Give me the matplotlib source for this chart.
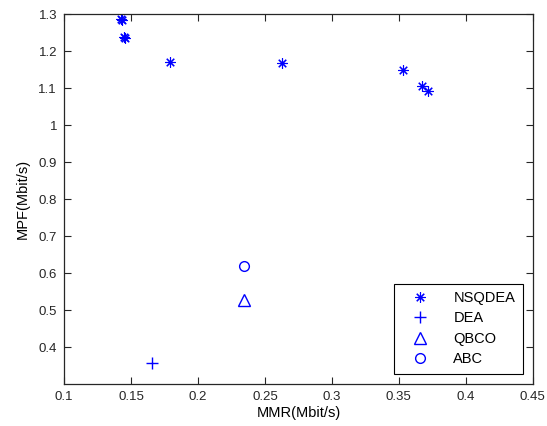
import matplotlib
matplotlib.use("Agg")
import matplotlib.pyplot as plt

# Pareto front of NSQDEA and single results of the other algorithms
nsqdea_mmr = [0.1425, 0.1435, 0.145, 0.1455, 0.179, 0.263, 0.353, 0.367, 0.372]
nsqdea_mpf = [1.288, 1.284, 1.239, 1.235, 1.171, 1.168, 1.150, 1.106, 1.092]
dea_mmr = [0.1654]
dea_mpf = [0.356]
qbco_mmr = [0.2346]
qbco_mpf = [0.528]
abc_mmr = [0.2346]
abc_mpf = [0.619]

BLUE = "#0000ff"
plt.rcParams["font.family"] = ["Liberation Sans", "DejaVu Sans"]

fig = plt.figure(figsize=(5.47, 4.26), dpi=100)
ax = fig.add_axes([0.117, 0.0986, 0.857, 0.868])

ax.plot(nsqdea_mmr, nsqdea_mpf, linestyle="none", marker=(8, 2, 0),
        markersize=7.5, markeredgewidth=0.8, color=BLUE, label="NSQDEA")
ax.plot(dea_mmr, dea_mpf, linestyle="none", marker="+",
        markersize=9, markeredgewidth=1.0, color=BLUE, label="DEA")
ax.plot(qbco_mmr, qbco_mpf, linestyle="none", marker="^", markerfacecolor="none",
        markersize=8, markeredgewidth=1.0, color=BLUE, label="QBCO")
ax.plot(abc_mmr, abc_mpf, linestyle="none", marker="o", markerfacecolor="none",
        markersize=7, markeredgewidth=1.0, color=BLUE, label="ABC")

ax.set_xlim(0.1, 0.45)
ax.set_ylim(0.3, 1.3)
ax.set_xticks([0.1, 0.15, 0.2, 0.25, 0.3, 0.35, 0.4, 0.45])
ax.set_xticklabels(["0.1", "0.15", "0.2", "0.25", "0.3", "0.35", "0.4", "0.45"])
ax.set_yticks([0.4, 0.5, 0.6, 0.7, 0.8, 0.9, 1.0, 1.1, 1.2, 1.3])
ax.set_yticklabels(["0.4", "0.5", "0.6", "0.7", "0.8", "0.9", "1", "1.1", "1.2", "1.3"])

ax.tick_params(direction="in", top=True, right=True, length=5, width=0.8,
               labelsize=9.5, colors="#262626", pad=5)
for spine in ax.spines.values():
    spine.set_color("#262626")
    spine.set_linewidth(0.9)

ax.set_xlabel("MMR(Mbit/s)", fontsize=10.5, labelpad=2)
ax.set_ylabel("MPF(Mbit/s)", fontsize=10.5, labelpad=6)

leg = ax.legend(loc="lower right", fontsize=10.5, fancybox=False, framealpha=1,
                edgecolor="#000000", borderaxespad=0.7, handletextpad=1.0,
                handlelength=2.6, labelspacing=0.45, borderpad=0.5)
leg.get_frame().set_linewidth(0.8)

fig.savefig("out.png", dpi=100, facecolor="white")
